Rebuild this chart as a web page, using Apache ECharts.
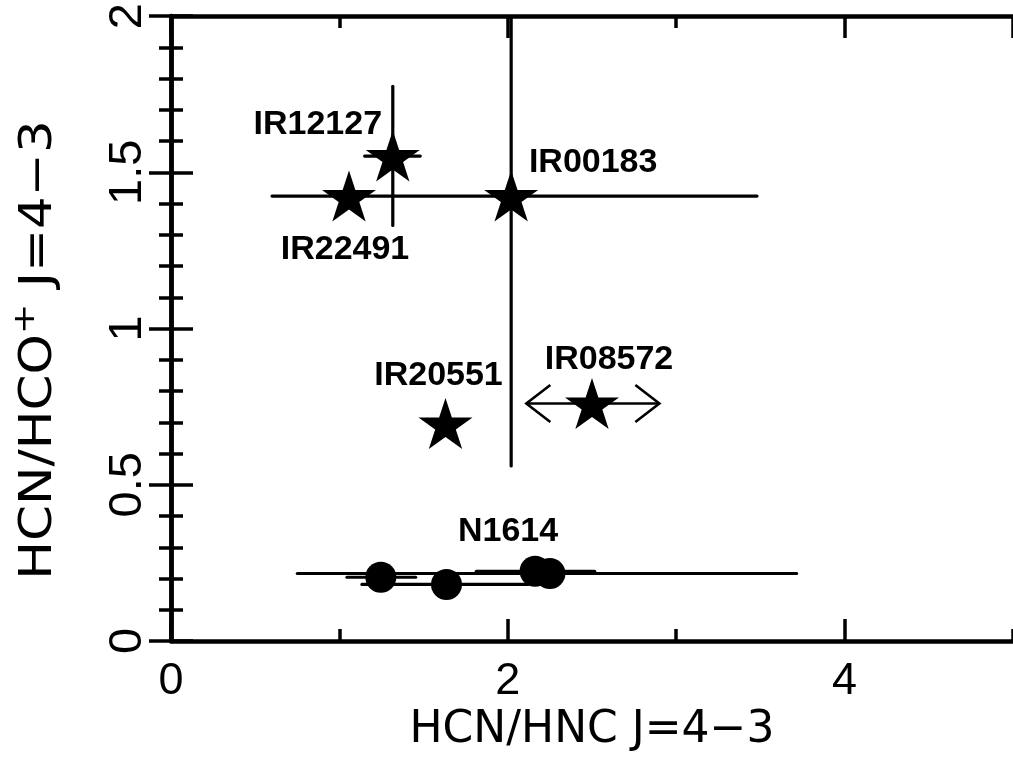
<!DOCTYPE html>
<html>
<head>
<meta charset="utf-8">
<script src="https://cdn.jsdelivr.net/npm/echarts@6/dist/echarts.min.js"></script>
<style>
html,body{margin:0;padding:0;background:#fff;}
#chart{width:1013px;height:769px;}
</style>
</head>
<body>
<div id="chart"></div>
<script>
// ---- data ----
const starNames = ['IR12127', 'IR22491', 'IR00183', 'IR20551', 'IR08572'];
const starX     = [1.317, 1.057, 2.02, 1.63, 2.50];
const starY     = [1.552, 1.424, 1.424, 0.696, 0.76];
const starXLo   = [1.15, null, 0.60, null, null];
const starXHi   = [1.48, null, 3.48, null, null];
const starYLo   = [1.33, null, 0.56, null, null];
const starYHi   = [1.775, null, 2.00, null, null];
// range shown with open arrows (IR08572)
const starArrowLo = [null, null, null, null, 2.11];
const starArrowHi = [null, null, null, null, 2.90];

const circName = 'N1614';
const circX    = [1.246, 1.636, 2.162, 2.25];
const circY    = [0.204, 0.181, 0.223, 0.216];
const circXLo  = [1.045, 1.134, 1.813, 0.75];
const circXHi  = [1.453, 2.12, 2.516, 3.715];

const xTicksMajor = [0, 2, 4];
const yTicksMajor = [0, 0.5, 1, 1.5, 2];

// ---- styling (not data) ----
const labelOffsets = [[-75, -31], [-4, 54], [82, -33], [-7, -48], [17, -44]];
const circLabelIndex = 2;
const circLabelOffset = [-27, -40];
const TICKF = "'Liberation Sans', Arial, Helvetica, sans-serif";
const TITLEF = "'DejaVu Sans', 'Liberation Sans', sans-serif";
const LBL = "'Liberation Sans', Arial, Helvetica, sans-serif";
const STAR = 'path://M50 0 L61.23 34.55 L97.55 34.55 L68.17 55.9 L79.39 90.45 L50 69.1 L20.61 90.45 L31.83 55.9 L2.45 34.55 L38.77 34.55 Z';

const chart = echarts.init(document.getElementById('chart'), null, {renderer: 'canvas'});

const errData = [];
starX.forEach((x, i) => errData.push([x, starY[i],
  starXLo[i] == null ? NaN : starXLo[i], starXHi[i] == null ? NaN : starXHi[i],
  starYLo[i] == null ? NaN : starYLo[i], starYHi[i] == null ? NaN : starYHi[i]]));
circX.forEach((x, i) => errData.push([x, circY[i], circXLo[i], circXHi[i], NaN, NaN]));

const arrowData = [];
starX.forEach((x, i) => { if (starArrowLo[i] != null) arrowData.push([x, starY[i], starArrowLo[i], starArrowHi[i]]); });

const lineStyle = {stroke: '#000', lineWidth: 3.2, lineCap: 'round'};

function errRender(params, api) {
  const y = api.value(1), x = api.value(0);
  const xl = api.value(2), xh = api.value(3), yl = api.value(4), yh = api.value(5);
  const ch = [];
  if (!isNaN(xl) && !isNaN(xh)) {
    const a = api.coord([xl, y]), b = api.coord([xh, y]);
    ch.push({type: 'line', shape: {x1: a[0], y1: a[1], x2: b[0], y2: b[1]}, style: lineStyle});
  }
  if (!isNaN(yl) && !isNaN(yh)) {
    const a = api.coord([x, yl]), b = api.coord([x, yh]);
    ch.push({type: 'line', shape: {x1: a[0], y1: a[1], x2: b[0], y2: b[1]}, style: lineStyle});
  }
  return {type: 'group', children: ch};
}

function arrowRender(params, api) {
  const y = api.value(1);
  const a = api.coord([api.value(2), y]), b = api.coord([api.value(3), y]);
  const st = {stroke: '#000', lineWidth: 2.6, fill: null};
  const hx = 24, hy = 18.5;
  return {type: 'group', children: [
    {type: 'line', shape: {x1: a[0], y1: a[1], x2: b[0], y2: b[1]}, style: st},
    {type: 'polyline', shape: {points: [[a[0] + hx, a[1] - hy], [a[0], a[1]], [a[0] + hx, a[1] + hy]]}, style: st},
    {type: 'polyline', shape: {points: [[b[0] - hx, b[1] - hy], [b[0], b[1]], [b[0] - hx, b[1] + hy]]}, style: st}
  ]};
}

const gridBox = {left: 171, top: 12, width: 846, height: 629};
const axLine = {show: true, lineStyle: {color: '#000', width: 4.5}};
const tickMinor = {show: true, inside: true, length: 12, lineStyle: {color: '#000', width: 3.5}};
const tickMajor = {show: true, inside: true, length: 22, lineStyle: {color: '#000', width: 3.5}};
const nameLabel = {show: true, position: 'inside', color: '#000', opacity: 1, fontSize: 34,
  fontWeight: 'bold', fontFamily: LBL};

const option = {
  backgroundColor: '#fff',
  animation: false,
  grid: gridBox,
  xAxis: [
    {type: 'value', min: 0, max: 5, interval: 1, position: 'bottom', axisLine: axLine, axisTick: tickMinor,
     axisLabel: {show: false}, splitLine: {show: false}},
    {type: 'value', min: 0, max: 5, interval: 2, position: 'bottom', axisLine: {show: false}, axisTick: tickMajor,
     axisLabel: {show: true, showMaxLabel: false, margin: 18, color: '#000', fontSize: 45, fontFamily: TICKF,
       formatter: v => (xTicksMajor.indexOf(v) >= 0 ? String(v) : '')},
     splitLine: {show: false},
     name: 'HCN/HNC J=4\u22123', nameLocation: 'middle', nameGap: 68,
     nameTextStyle: {color: '#000', fontSize: 44, fontFamily: TITLEF}},
    {type: 'value', min: 0, max: 5, interval: 1, position: 'top', axisLine: axLine, axisTick: tickMinor,
     axisLabel: {show: false}, splitLine: {show: false}},
    {type: 'value', min: 0, max: 5, interval: 2, position: 'top', axisLine: {show: false}, axisTick: tickMajor,
     axisLabel: {show: false}, splitLine: {show: false}}
  ],
  yAxis: [
    {type: 'value', min: 0, max: 2, interval: 0.5, position: 'left', axisLine: axLine, axisTick: tickMajor,
     minorTick: {show: true, splitNumber: 5, length: 12, lineStyle: {color: '#000', width: 3.5}},
     axisLabel: {show: true, rotate: 90, margin: 19, color: '#000', fontSize: 47, fontFamily: TICKF,
       formatter: v => (yTicksMajor.indexOf(v) >= 0 ? String(v) : '')},
     splitLine: {show: false}, minorSplitLine: {show: false}},
    {type: 'value', min: 0, max: 2, interval: 0.5, position: 'right', axisLine: axLine, axisTick: tickMajor,
     minorTick: {show: true, splitNumber: 5, length: 12, lineStyle: {color: '#000', width: 3.5}},
     axisLabel: {show: false}, splitLine: {show: false}, minorSplitLine: {show: false}}
  ],
  graphic: [{
    type: 'text', x: 36, y: 350, rotation: Math.PI / 2, scaleX: 1.17, scaleY: 1,
    style: {
      text: '{a|HCN/HCO}{s|+}{a| J=4\u22123}',
      align: 'center', verticalAlign: 'middle', fill: '#000',
      rich: {
        a: {fontSize: 44, fontFamily: TITLEF, color: '#000', lineHeight: 51, verticalAlign: 'bottom'},
        s: {fontSize: 31, fontFamily: TITLEF, color: '#000', lineHeight: 51, verticalAlign: 'top'}
      }
    }
  }],
  series: [
    {type: 'custom', name: 'errors', renderItem: errRender, data: errData, encode: {x: 0, y: 1},
     xAxisIndex: 0, yAxisIndex: 0, z: 2, clip: true, silent: true},
    {type: 'custom', name: 'range', renderItem: arrowRender, data: arrowData, encode: {x: 0, y: 1},
     xAxisIndex: 0, yAxisIndex: 0, z: 2, silent: true},
    {type: 'scatter', name: 'ULIRGs', symbol: STAR, symbolSize: [54, 51], z: 5,
     itemStyle: {color: '#000', opacity: 1},
     data: starX.map((x, i) => ({value: [x, starY[i]],
       label: Object.assign({}, nameLabel, {formatter: starNames[i], offset: labelOffsets[i]})}))},
    {type: 'scatter', name: circName, symbol: 'circle', symbolSize: 31, z: 5,
     itemStyle: {color: '#000', opacity: 1},
     data: circX.map((x, i) => ({value: [x, circY[i]],
       label: i === circLabelIndex ? Object.assign({}, nameLabel, {formatter: circName, offset: circLabelOffset})
                                   : {show: false}}))}
  ]
};
chart.setOption(option);
</script>
</body>
</html>
